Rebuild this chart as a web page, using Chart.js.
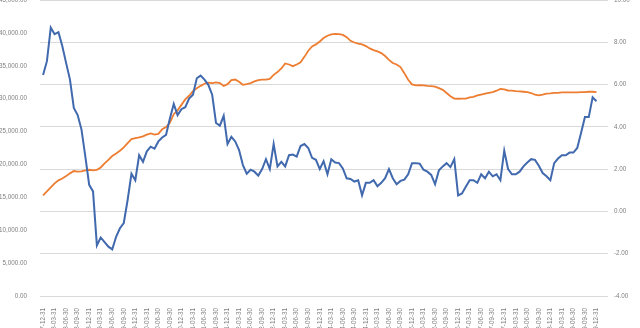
<!DOCTYPE html>
<html>
<head>
<meta charset="utf-8">
<script src="https://cdn.jsdelivr.net/npm/chart.js@4/dist/chart.umd.min.js"></script>
<style>
  body { margin: 0; background: #fff; }
  .wrap { width: 640px; height: 328px; position: relative; }
</style>
</head>
<body>
<div class="wrap"><canvas id="myChart"></canvas></div>
<script>
// quarterly tick labels, one every 3 monthly points
const tickLabels = [
  "2007-12-31", "2008-03-31", "2008-06-30", "2008-09-30", "2008-12-31",
  "2009-03-31", "2009-06-30", "2009-09-30", "2009-12-31", "2010-03-31",
  "2010-06-30", "2010-09-30", "2010-12-31", "2011-03-31", "2011-06-30",
  "2011-09-30", "2011-12-31", "2012-03-31", "2012-06-30", "2012-09-30",
  "2012-12-31", "2013-03-31", "2013-06-30", "2013-09-30", "2013-12-31",
  "2014-03-31", "2014-06-30", "2014-09-30", "2014-12-31", "2015-03-31",
  "2015-06-30", "2015-09-30", "2015-12-31", "2016-03-31", "2016-06-30",
  "2016-09-30", "2016-12-31", "2017-03-31", "2017-06-30", "2017-09-30",
  "2017-12-31", "2018-03-31", "2018-06-30", "2018-09-30", "2018-12-31",
  "2019-03-31", "2019-06-30", "2019-09-30", "2019-12-31",
];

// monthly values, left axis
const blueValues = [
  33600, 35700, 40800, 39800, 40100, 38000, 35400, 32900, 28600, 27500,
  25300, 21200, 16900, 15900, 7700, 8900, 8200, 7500, 7100, 9000,
  10300, 11100, 14600, 18600, 17600, 21400, 20400, 22000, 22700, 22400,
  23500, 24100, 24500, 27000, 29200, 27500, 28400, 28700, 30000, 30600,
  33100, 33500, 32900, 32100, 30600, 26300, 25900, 27400, 23100, 24200,
  23500, 22200, 19900, 18600, 19200, 18900, 18300, 19300, 20800, 19300,
  23100, 19700, 20400, 19700, 21400, 21500, 21200, 22800, 23100, 22500,
  21000, 20700, 19300, 20500, 18500, 20800, 20300, 20200, 19400, 17900,
  17800, 17400, 17600, 15300, 17200, 17200, 17600, 16700, 17200, 17900,
  19300, 17900, 17000, 17500, 17700, 18500, 20200, 20200, 20100, 19200,
  18900, 18400, 17000, 19100, 19700, 20200, 19600, 20800, 15300, 15600,
  16600, 17600, 17600, 17200, 18500, 17900, 18900, 18200, 18500, 17600,
  22100, 19300, 18500, 18500, 18900, 19700, 20300, 20800, 20700, 19800,
  18700, 18200, 17600, 20200, 20900, 21400, 21400, 21800, 21800, 22500,
  24800, 27200, 27200, 30200, 29600,
];

// monthly values, right axis
const orangeValues = [
  0.76, 0.95, 1.14, 1.33, 1.47, 1.56, 1.67, 1.80, 1.91, 1.88,
  1.89, 1.94, 1.97, 1.94, 1.97, 2.08, 2.27, 2.44, 2.62, 2.74,
  2.87, 3.03, 3.23, 3.42, 3.47, 3.50, 3.55, 3.63, 3.69, 3.63,
  3.67, 3.89, 3.99, 4.19, 4.60, 4.78, 5.04, 5.30, 5.47, 5.69,
  5.83, 5.94, 6.04, 6.09, 6.07, 6.10, 6.07, 5.93, 6.02, 6.21,
  6.24, 6.13, 5.99, 6.02, 6.07, 6.15, 6.21, 6.23, 6.23, 6.27,
  6.46, 6.59, 6.76, 7.00, 6.95, 6.87, 6.95, 7.05, 7.31, 7.60,
  7.80, 7.90, 8.04, 8.20, 8.31, 8.37, 8.40, 8.39, 8.35, 8.24,
  8.07, 7.99, 7.94, 7.90, 7.82, 7.71, 7.63, 7.57, 7.49, 7.35,
  7.17, 7.02, 6.95, 6.83, 6.54, 6.23, 6.01, 5.96, 5.97, 5.96,
  5.94, 5.93, 5.90, 5.83, 5.75, 5.60, 5.45, 5.34, 5.33, 5.34,
  5.34, 5.39, 5.42, 5.49, 5.53, 5.57, 5.61, 5.64, 5.71, 5.79,
  5.77, 5.72, 5.71, 5.69, 5.68, 5.66, 5.64, 5.60, 5.52, 5.49,
  5.52, 5.57, 5.58, 5.61, 5.61, 5.63, 5.63, 5.63, 5.63, 5.63,
  5.64, 5.64, 5.66, 5.66, 5.64,
];

const leftTicks = { min: 0, max: 45000, step: 5000 };
const rightTicks = { min: -4, max: 10, step: 2 };

const tickFont = { family: "'Liberation Sans', Arial, sans-serif", size: 6.3 };
const tickColor = "#7f7f7f";

function toPoints(arr) {
  return arr.map((v, i) => ({ x: i, y: v }));
}

function noPad(scale) {
  scale.paddingTop = 0;
  scale.paddingBottom = 0;
  scale.paddingLeft = 0;
  scale.paddingRight = 0;
}

const ctx = document.getElementById("myChart").getContext("2d");
new Chart(ctx, {
  type: "line",
  data: {
    datasets: [
      {
        label: "A",
        data: toPoints(blueValues),
        yAxisID: "y",
        borderColor: "#4169ae",
        borderWidth: 2,
        pointRadius: 0,
        tension: 0,
      },
      {
        label: "B",
        data: toPoints(orangeValues),
        yAxisID: "y1",
        borderColor: "#ed7d31",
        borderWidth: 1.8,
        pointRadius: 0,
        tension: 0,
      },
    ],
  },
  options: {
    responsive: true,
    maintainAspectRatio: false,
    animation: false,
    layout: { padding: 0 },
    plugins: { legend: { display: false }, tooltip: { enabled: false } },
    scales: {
      x: {
        type: "linear",
        min: -0.8,
        max: 147,
        grid: { display: false },
        border: { display: false },
        afterBuildTicks: (s) => {
          s.ticks = tickLabels.map((l, k) => ({ value: k * 3 }));
        },
        afterFit: (s) => {
          s.height = 32;
          noPad(s);
        },
        ticks: {
          autoSkip: false,
          minRotation: 90,
          maxRotation: 90,
          padding: 4,
          font: tickFont,
          color: tickColor,
          callback: (v) => tickLabels[Math.round(v / 3)] || "",
        },
      },
      y: {
        position: "left",
        min: leftTicks.min,
        max: leftTicks.max,
        grid: { display: false },
        border: { display: false },
        afterFit: (s) => {
          s.width = 40;
          noPad(s);
        },
        ticks: {
          stepSize: leftTicks.step,
          padding: 5,
          font: tickFont,
          color: tickColor,
          callback: (v) =>
            v.toLocaleString("en-US", { minimumFractionDigits: 2, maximumFractionDigits: 2 }),
        },
      },
      y1: {
        position: "right",
        min: rightTicks.min,
        max: rightTicks.max,
        grid: { color: "#d9d9d9", lineWidth: 1, drawTicks: false },
        border: { display: false },
        afterFit: (s) => {
          s.width = 32;
          noPad(s);
        },
        ticks: {
          stepSize: rightTicks.step,
          padding: 6,
          font: tickFont,
          color: tickColor,
          callback: (v) => v.toFixed(2),
        },
      },
    },
  },
});
</script>
</body>
</html>
